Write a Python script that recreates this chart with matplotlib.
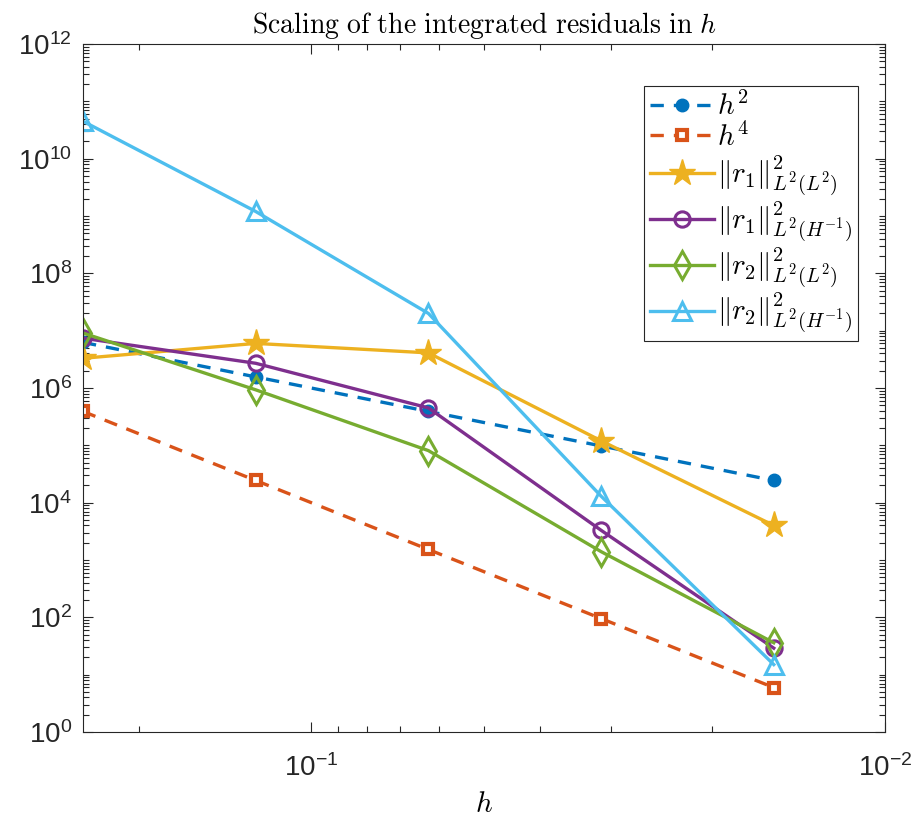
import numpy as np
import matplotlib
matplotlib.use("Agg")
import matplotlib.pyplot as plt
from matplotlib.font_manager import FontProperties
from matplotlib.ticker import LogLocator, NullFormatter

plt.rcParams['font.family'] = ['Liberation Sans', 'DejaVu Sans']
plt.rcParams['mathtext.fontset'] = 'custom'
plt.rcParams['mathtext.rm'] = 'Liberation Sans'
plt.rcParams['mathtext.it'] = 'Liberation Sans:italic'
plt.rcParams['mathtext.bf'] = 'Liberation Sans:bold'

# datos
h = [0.25, 0.125, 0.0625, 0.03125, 0.015625]
ref_h2 = [6.25e6, 1.5625e6, 3.906e5, 9.77e4, 2.44e4]
ref_h4 = [3.906e5, 2.441e4, 1.526e3, 95.4, 5.96]
r1_L2L2 = [3.3e6, 6.0e6, 4.1e6, 1.2e5, 4.0e3]
r1_L2H1 = [7.4e6, 2.7e6, 4.5e5, 3.3e3, 29.0]
r2_L2L2 = [9.1e6, 9.3e5, 8.1e4, 1.4e3, 36.0]
r2_L2H1 = [4.5e10, 1.2e9, 2.0e7, 1.3e4, 15.0]

ytick_vals = [1e0, 1e2, 1e4, 1e6, 1e8, 1e10, 1e12]
ytick_labels = [r'$10^{0}$', r'$10^{2}$', r'$10^{4}$', r'$10^{6}$',
                r'$10^{8}$', r'$10^{10}$', r'$10^{12}$']
xtick_vals = [1e-1, 1e-2]
xtick_labels = [r'$10^{-1}$', r'$10^{-2}$']

c1 = '#0072BD'
c2 = '#D95319'
c3 = '#EDB120'
c4 = '#7E2F8E'
c5 = '#77AC30'
c6 = '#4DBEEE'

fig = plt.figure(figsize=(9.13, 8.26), dpi=100)
ax = fig.add_axes([0.0909, 0.1138, 0.8784, 0.8329])

lw = 2.4
ax.plot(h, ref_h2, '--', color=c1, lw=lw, dashes=(4, 3), marker='o',
        ms=9, mfc=c1, mec=c1, label=r'$h^2$')
ax.plot(h, ref_h4, '--', color=c2, lw=lw, dashes=(4, 3), marker='s',
        ms=7.5, mfc='white', mec=c2, mew=3, label=r'$h^4$')
ax.plot(h, r1_L2L2, '-', color=c3, lw=lw, marker='*', ms=20,
        mfc=c3, mec=c3, label=r'$\Vert r_1\Vert^2_{L^2(L^2)}$')
ax.plot(h, r1_L2H1, '-', color=c4, lw=lw, marker='o', ms=11,
        mfc='none', mec=c4, mew=2.2, label=r'$\Vert r_1\Vert^2_{L^2(H^{-1})}$')
ax.plot(h, r2_L2L2, '-', color=c5, lw=lw, marker='d', ms=14,
        mfc='none', mec=c5, mew=2.2, label=r'$\Vert r_2\Vert^2_{L^2(L^2)}$')
ax.plot(h, r2_L2H1, '-', color=c6, lw=lw, marker='^', ms=13,
        mfc='none', mec=c6, mew=2.2, label=r'$\Vert r_2\Vert^2_{L^2(H^{-1})}$')

ax.set_xscale('log')
ax.set_yscale('log')
ax.set_xlim(0.25, 0.01)
ax.set_ylim(1e0, 1e12)

ax.set_yticks(ytick_vals)
ax.set_yticklabels(ytick_labels, fontsize=20, color='#262626')
ax.set_xticks(xtick_vals)
ax.set_xticklabels(xtick_labels, fontsize=20, color='#262626')
ax.yaxis.set_minor_locator(LogLocator(base=10, subs=np.arange(1, 10), numticks=100))
ax.yaxis.set_minor_formatter(NullFormatter())
ax.xaxis.set_minor_locator(LogLocator(base=10, subs=np.arange(1, 10), numticks=100))
ax.xaxis.set_minor_formatter(NullFormatter())

ax.tick_params(which='both', direction='in', top=True, right=True,
               color='#262626', width=0.8)
ax.tick_params(axis='y', which='major', length=7, pad=8)
ax.tick_params(axis='x', which='major', length=7, pad=16)
ax.tick_params(which='minor', length=4)
for s in ax.spines.values():
    s.set_color('#262626')
    s.set_linewidth(0.8)

cm = FontProperties(size=21, math_fontfamily='cm')
ax.set_title(r'$\mathrm{Scaling\ of\ the\ integrated\ residuals\ in\ }h$',
             fontproperties=FontProperties(size=20, math_fontfamily='cm'), pad=8)
ax.set_xlabel(r'$h$', fontproperties=FontProperties(size=21, math_fontfamily='cm'),
              labelpad=6)

leg = ax.legend(loc='upper right', bbox_to_anchor=(0.966, 0.939), prop=cm,
                fancybox=False, edgecolor='#262626', framealpha=1,
                handlelength=2.2, handletextpad=0.1, borderpad=0.2,
                labelspacing=0.05, borderaxespad=0)
leg.get_frame().set_linewidth(0.8)

plt.savefig('out.png', dpi=100)
